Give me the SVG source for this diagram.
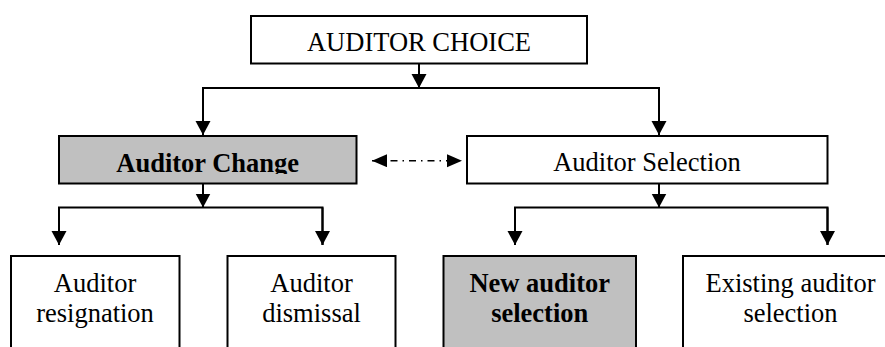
<svg xmlns="http://www.w3.org/2000/svg" width="885" height="347" viewBox="0 0 885 347">
  <style>
    .box { fill: #ffffff; stroke: #000000; stroke-width: 2; }
    .shade { fill: #c0c0c0; }
    .lbl { font-size: 26.5px; fill: #000000; text-anchor: middle; }
    .bold { font-weight: bold; }
    .wire { fill: none; stroke: #000000; stroke-width: 2; }
    .dash { fill: none; stroke: #000000; stroke-width: 1.4; stroke-dasharray: 7 5 1.5 5; }
  </style>
  <defs>
    <marker id="ah" markerUnits="userSpaceOnUse" markerWidth="16" markerHeight="16" refX="14" refY="7.5" orient="auto">
      <path d="M0,0 L14,7.5 L0,15 z" fill="#000000"/>
    </marker>
    <marker id="ah2" markerUnits="userSpaceOnUse" markerWidth="16" markerHeight="14" refX="15" refY="6.5" orient="auto-start-reverse">
      <path d="M0,0 L15,6.5 L0,13 z" fill="#000000"/>
    </marker>
    <clipPath id="clipChange">
      <rect x="58" y="136" width="300" height="38"/>
    </clipPath>
  </defs>

  <rect width="885" height="347" fill="#ffffff"/>

  <!-- connectors: trunk arrows, branch bars, and the dash-dot link -->
  <g id="connectors">
    <line class="wire" x1="419" y1="64" x2="419" y2="88" marker-end="url(#ah)"/>
    <polyline class="wire" points="203,135 203,88 659,88 659,135"/>
    <line class="wire" x1="203" y1="88" x2="203" y2="135" marker-end="url(#ah)"/>
    <line class="wire" x1="659" y1="88" x2="659" y2="135" marker-end="url(#ah)"/>

    <line class="wire" x1="203" y1="184" x2="203" y2="207.5" marker-end="url(#ah)"/>
    <polyline class="wire" points="59,245 59,207.5 322.5,207.5 322.5,245"/>
    <line class="wire" x1="59" y1="207.5" x2="59" y2="245" marker-end="url(#ah)"/>
    <line class="wire" x1="322.5" y1="207.5" x2="322.5" y2="245" marker-end="url(#ah)"/>

    <line class="wire" x1="659" y1="184" x2="659" y2="207.5" marker-end="url(#ah)"/>
    <polyline class="wire" points="515,245 515,207.5 827.5,207.5 827.5,245"/>
    <line class="wire" x1="515" y1="207.5" x2="515" y2="245" marker-end="url(#ah)"/>
    <line class="wire" x1="827.5" y1="207.5" x2="827.5" y2="245" marker-end="url(#ah)"/>

    <line class="dash" x1="372" y1="160.7" x2="462" y2="160.7" marker-start="url(#ah2)" marker-end="url(#ah2)"/>
  </g>

  <g id="auditor-choice" font-family="Liberation Serif, serif">
    <rect class="box" x="251" y="16" width="336" height="47.5"/>
    <text class="lbl" x="419" y="50.7">AUDITOR CHOICE</text>
  </g>

  <g id="auditor-change" font-family="Liberation Serif, serif">
    <rect class="box shade" x="59" y="136" width="297.5" height="47.5"/>
    <text class="lbl bold" x="207.7" y="171.7" clip-path="url(#clipChange)">Auditor Change</text>
  </g>

  <g id="auditor-selection" font-family="Liberation Serif, serif">
    <rect class="box" x="467" y="136" width="360.5" height="47.5"/>
    <text class="lbl" x="647" y="170.7">Auditor Selection</text>
  </g>

  <g id="auditor-resignation" font-family="Liberation Serif, serif">
    <rect class="box" x="11" y="256" width="168.5" height="100"/>
    <text class="lbl" x="95" y="291.7">Auditor</text>
    <text class="lbl" x="95" y="321.7">resignation</text>
  </g>

  <g id="auditor-dismissal" font-family="Liberation Serif, serif">
    <rect class="box" x="227.5" y="256" width="168" height="100"/>
    <text class="lbl" x="311.5" y="291.7">Auditor</text>
    <text class="lbl" x="311.5" y="321.7">dismissal</text>
  </g>

  <g id="new-auditor-selection" font-family="Liberation Serif, serif">
    <rect class="box shade" x="443.5" y="256" width="192.5" height="100"/>
    <text class="lbl bold" x="539.7" y="291.7">New auditor</text>
    <text class="lbl bold" x="539.7" y="321.7">selection</text>
  </g>

  <g id="existing-auditor-selection" font-family="Liberation Serif, serif">
    <rect class="box" x="683" y="256" width="215" height="100"/>
    <text class="lbl" x="790.5" y="291.7">Existing auditor</text>
    <text class="lbl" x="790.5" y="321.7">selection</text>
  </g>
</svg>
